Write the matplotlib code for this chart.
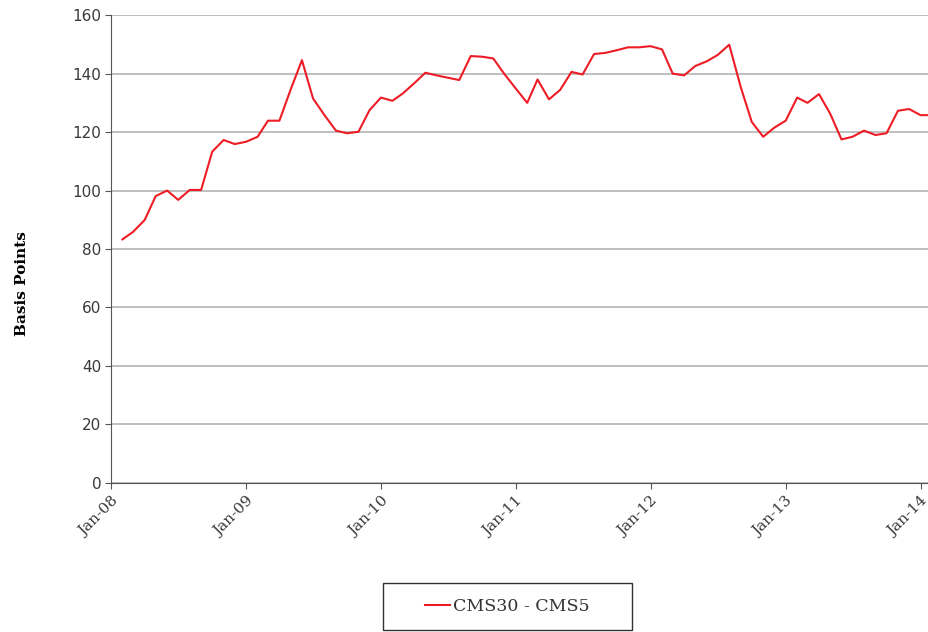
import matplotlib
matplotlib.use("Agg")
import matplotlib.pyplot as plt
import matplotlib.dates as mdates
from matplotlib.patches import Rectangle
import pandas as pd

# monthly spread, Feb-08 .. Feb-14 (basis points)
spread = [83.3, 85.9, 89.9, 98.1, 100.0, 96.8, 100.2, 100.2, 113.3, 117.3, 115.9, 116.7,
          118.4, 123.9, 123.9, 134.4, 144.6, 131.5, 125.8, 120.5, 119.6, 120.1, 127.5, 131.8,
          130.7, 133.2, 136.7, 140.3, 139.4, 138.6, 137.8, 146.0, 145.8, 145.2, 139.9, 134.9,
          130.0, 138.0, 131.2, 134.4, 140.6, 139.7, 146.7, 147.1, 148.0, 149.0, 149.0, 149.4,
          148.3, 140.0, 139.4, 142.6, 144.2, 146.4, 149.9, 135.5, 123.5, 118.4, 121.5, 123.9,
          131.8, 130.0, 133.0, 126.4, 117.5, 118.4, 120.5, 119.0, 119.6, 127.3, 127.9, 125.8,
          125.8]
dates = pd.date_range("2008-02-01", periods=len(spread), freq="MS")
tick_dates = pd.date_range("2008-01-01", "2014-01-01", freq="YS")
tick_labels = [d.strftime("%b-%y") for d in tick_dates]
y_ticks = list(range(0, 161, 20))

fig = plt.figure(figsize=(9.29, 6.32), dpi=100)
ax = fig.add_axes([0.1195, 0.236, 0.8805, 0.740])

ax.plot(dates, spread, color="#ee1c25", linewidth=1.5, label="CMS30 - CMS5")

ax.set_ylim(0, 160)
ax.set_yticks(y_ticks)
ax.set_xlim(mdates.date2num(pd.Timestamp("2008-01-01")),
            mdates.date2num(pd.Timestamp("2014-01-24")))
ax.set_xticks(mdates.date2num(tick_dates))
ax.set_xticklabels(tick_labels, rotation=45, ha="right", rotation_mode="anchor",
                   family="DejaVu Serif", fontsize=11, color="#3a3a3a")
for lab in ax.get_yticklabels():
    lab.set_fontsize(11)
    lab.set_color("#3a3a3a")

ax.yaxis.grid(True, color="#b4b4b4", linewidth=1.2)
ax.set_axisbelow(True)
for s in ["top", "right"]:
    ax.spines[s].set_visible(False)
ax.spines["left"].set_color("#555555")
ax.spines["bottom"].set_color("#555555")
ax.tick_params(axis="both", direction="out", length=4, color="#555555", pad=3)
ax.tick_params(axis="x", pad=4)

fig.text(0.024, 0.552, "Basis Points", rotation=90, ha="center", va="center",
         family="DejaVu Serif", fontweight="bold", fontsize=11)

# legend box drawn separately so it can be wider than the entry
fig.patches.append(Rectangle((383 / 929, 1 - 630 / 632), 249 / 929, 47 / 632,
                             transform=fig.transFigure, fill=False,
                             edgecolor="#333333", linewidth=1.0))
leg = fig.legend(loc="center", bbox_to_anchor=(0.546, 0.041), frameon=False,
                 handlelength=1.45, handletextpad=0.15,
                 prop={"family": "DejaVu Serif", "size": 12.5})
for t in leg.get_texts():
    t.set_color("#333333")

fig.savefig("out.png", dpi=100)
